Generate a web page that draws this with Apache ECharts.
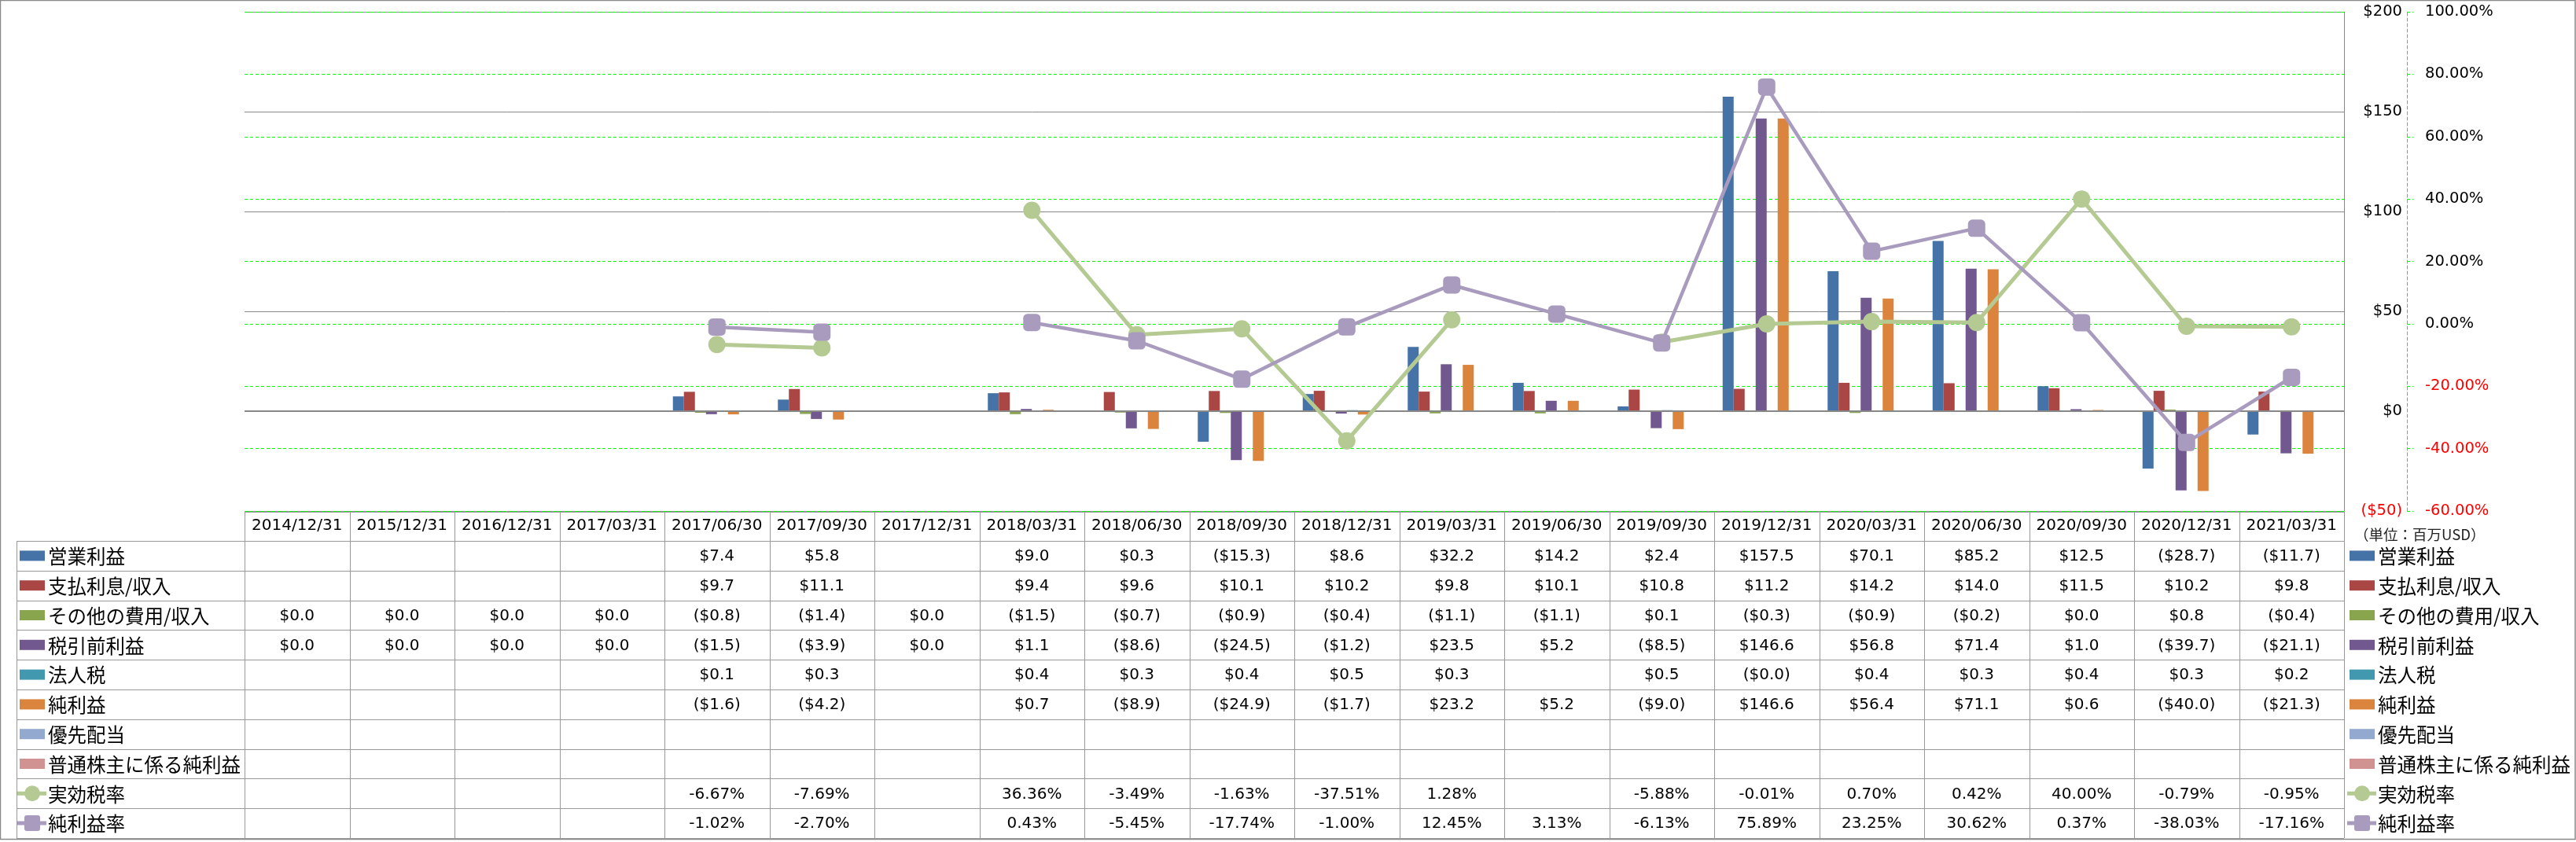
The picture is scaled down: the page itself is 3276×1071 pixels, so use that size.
<!DOCTYPE html>
<html><head><meta charset="utf-8">
<script src="https://cdn.jsdelivr.net/npm/echarts@6/dist/echarts.min.js"></script>
<style>html,body{margin:0;padding:0;background:#fff}#c{width:3276px;height:1071px}</style>
</head><body><div id="c"></div>
<script>
const categories = ['2014/12/31','2015/12/31','2016/12/31','2017/03/31','2017/06/30','2017/09/30','2017/12/31','2018/03/31','2018/06/30','2018/09/30','2018/12/31','2019/03/31','2019/06/30','2019/09/30','2019/12/31','2020/03/31','2020/06/30','2020/09/30','2020/12/31','2021/03/31'];
const seriesNames = ['営業利益','支払利息/収入','その他の費用/収入','税引前利益','法人税','純利益','優先配当','普通株主に係る純利益','実効税率','純利益率'];
const operatingIncome = [null,null,null,null,7.4,5.8,null,9.0,0.3,-15.3,8.6,32.2,14.2,2.4,157.5,70.1,85.2,12.5,-28.7,-11.7];
const interestExpense = [null,null,null,null,9.7,11.1,null,9.4,9.6,10.1,10.2,9.8,10.1,10.8,11.2,14.2,14.0,11.5,10.2,9.8];
const otherExpense = [0.0,0.0,0.0,0.0,-0.8,-1.4,0.0,-1.5,-0.7,-0.9,-0.4,-1.1,-1.1,0.1,-0.3,-0.9,-0.2,0.0,0.8,-0.4];
const pretaxIncome = [0.0,0.0,0.0,0.0,-1.5,-3.9,0.0,1.1,-8.6,-24.5,-1.2,23.5,5.2,-8.5,146.6,56.8,71.4,1.0,-39.7,-21.1];
const incomeTax = [null,null,null,null,0.1,0.3,null,0.4,0.3,0.4,0.5,0.3,null,0.5,-0.01,0.4,0.3,0.4,0.3,0.2];
const netIncome = [null,null,null,null,-1.6,-4.2,null,0.7,-8.9,-24.9,-1.7,23.2,5.2,-9.0,146.6,56.4,71.1,0.6,-40.0,-21.3];
const preferredDividends = [null,null,null,null,null,null,null,null,null,null,null,null,null,null,null,null,null,null,null,null];
const netIncomeCommon = [null,null,null,null,null,null,null,null,null,null,null,null,null,null,null,null,null,null,null,null];
const effectiveTaxRate = [null,null,null,null,-6.67,-7.69,null,36.36,-3.49,-1.63,-37.51,1.28,null,-5.88,-0.01,0.70,0.42,40.00,-0.79,-0.95];
const netMargin = [null,null,null,null,-1.02,-2.70,null,0.43,-5.45,-17.74,-1.00,12.45,3.13,-6.13,75.89,23.25,30.62,0.37,-38.03,-17.16];
const unitLabel = '（単位：百万USD）';

const barColors = ['#4572A7','#AA4643','#89A54E','#71588F','#4198AF','#DB843D','#93A9CF','#D19392'];
const lineColors = ['#B5CA92','#A99BBD'];
const rows = [operatingIncome, interestExpense, otherExpense, pretaxIncome, incomeTax, netIncome, preferredDividends, netIncomeCommon, effectiveTaxRate, netMargin];

// layout
const W = 3276, H = 1071;
const gL = 311, gR = 2981, gT = 15, gB = 650;
const colW = (gR - gL) / categories.length;
const headTop = 651, rowTop = 688, rowH = 37.8, tabL = 21;
const tabBottom = rowTop + rowH * rows.length;
const gridColor = '#888888';
const tableColor = '#999999';
const numFont = '20px "DejaVu Sans", Verdana, sans-serif';
const jpFont = '24.5px "Noto Sans CJK JP", sans-serif';

function fmtDollar(v){ if (v == null) return ''; const a = Math.abs(v).toFixed(1); return v < 0 ? '($' + a + ')' : '$' + a; }
function fmtPct(v){ return v == null ? '' : v.toFixed(2) + '%'; }
const toData = arr => arr.map(v => v == null ? '-' : v);

const els = [];
const hline = (x1, x2, y, c, w) => els.push({type:'line', silent:true, z:100, shape:{x1:x1, y1:y, x2:x2, y2:y}, style:{stroke:c, lineWidth:w||1}});
const vline = (x, y1, y2, c, w) => els.push({type:'line', silent:true, z:100, shape:{x1:x, y1:y1, x2:x, y2:y2}, style:{stroke:c, lineWidth:w||1}});

// outer border
els.push({type:'rect', silent:true, z:100, shape:{x:0.5, y:0.5, width:W-1.5, height:1067}, style:{fill:null, stroke:'#8a8a8a', lineWidth:1.5}});
// plot right border
vline(gR + 0.5, gT, gB, gridColor, 1);
// table lines
hline(gL, gR, headTop + 0.5, tableColor);
for (let r = 0; r <= rows.length; r++) hline(tabL, gR, Math.round(rowTop + r * rowH) + 0.5, tableColor);
vline(tabL + 0.5, rowTop, tabBottom, tableColor);
for (let i = 0; i <= categories.length; i++) vline(Math.round(gL + i * colW) + 0.5, headTop, tabBottom, tableColor);

// table values
rows.forEach((arr, r) => {
  const cy = rowTop + r * rowH + rowH / 2 + 1;
  arr.forEach((v, i) => {
    const t = r < 8 ? fmtDollar(v) : fmtPct(v);
    if (!t) return;
    els.push({type:'text', silent:true, z:100, x: gL + (i + 0.5) * colW, y: cy,
      style:{text:t, font:numFont, fill:'#000', align:'center', verticalAlign:'middle'}});
  });
});

// legend keys (left in table and right side)
function legendItem(x0, r) {
  const cy = rowTop + r * rowH + rowH / 2;
  if (r < 8) {
    els.push({type:'rect', silent:true, z:100, shape:{x:x0, y:cy - 6.5, width:32, height:13}, style:{fill:barColors[r]}});
  } else {
    const c = lineColors[r - 8];
    els.push({type:'line', silent:true, z:100, shape:{x1:x0 - 3, y1:cy, x2:x0 + 34, y2:cy}, style:{stroke:c, lineWidth:5}});
    if (r === 8) els.push({type:'circle', silent:true, z:101, shape:{cx:x0 + 16, cy:cy, r:10}, style:{fill:c}});
    else els.push({type:'rect', silent:true, z:101, shape:{x:x0 + 6, y:cy - 10, width:20, height:20, r:3}, style:{fill:c}});
  }
  els.push({type:'text', silent:true, z:100, x:x0 + 36, y:cy + 1,
    style:{text:seriesNames[r], font:jpFont, fill:'#000', align:'left', verticalAlign:'middle'}});
}
for (let r = 0; r < rows.length; r++) { legendItem(25, r); legendItem(2988, r); }

els.push({type:'text', silent:true, z:100, x:2994, y:680,
  style:{text:unitLabel, font:'18.5px "Noto Sans CJK JP", sans-serif', fill:'#222', align:'left', verticalAlign:'middle'}});

const barSeries = rows.slice(0, 8).map((arr, k) => ({
  name: seriesNames[k], type:'bar', data: toData(arr), barWidth:14, barGap:'0%',
  itemStyle:{color:barColors[k]}, yAxisIndex:0, z:3,
  markLine: k === 0 ? {silent:true, symbol:['none','none'], label:{show:false}, animation:false,
    lineStyle:{color:gridColor, width:2, type:'solid'}, data:[{yAxis:0}]} : undefined
}));

const lineSeries = [
  {name:seriesNames[8], type:'line', yAxisIndex:1, data:toData(effectiveTaxRate), connectNulls:false,
   symbol:'circle', symbolSize:22, lineStyle:{color:lineColors[0], width:5}, itemStyle:{color:lineColors[0]}, z:10},
  {name:seriesNames[9], type:'line', yAxisIndex:1, data:toData(netMargin), connectNulls:false,
   symbol:'roundRect', symbolSize:22, lineStyle:{color:lineColors[1], width:4.5}, itemStyle:{color:lineColors[1]}, z:11}
];

const chart = echarts.init(document.getElementById('c'), null, {renderer:'canvas'});
chart.setOption({
  animation:false,
  backgroundColor:'#fff',
  grid:{left:gL, top:gT, width:gR - gL, height:gB - gT, containLabel:false},
  xAxis:{type:'category', data:categories, boundaryGap:true,
    axisLine:{show:false}, axisTick:{show:false}, splitLine:{show:false},
    axisLabel:{interval:0, margin:9, color:'#000', fontSize:20, fontFamily:'"DejaVu Sans", Verdana, sans-serif'}},
  yAxis:[
    {type:'value', position:'right', min:-50, max:200, interval:50,
     axisLine:{show:false}, axisTick:{show:false},
     splitLine:{show:true, lineStyle:{color:gridColor, width:1}},
     axisLabel:{margin:74, align:'right', fontSize:19.5, fontFamily:'"DejaVu Sans", Verdana, sans-serif',
       color: v => v < 0 ? '#FF0000' : '#000',
       formatter: v => v < 0 ? '($' + Math.abs(v) + ')' : '$' + v}},
    {type:'value', position:'right', offset:80, min:-60, max:100, interval:20,
     axisLine:{show:true, lineStyle:{color:'#00FF00', width:1, type:[4,3]}},
     axisTick:{show:true, length:8, lineStyle:{color:'#00FF00', width:1, type:[4,3]}},
     splitLine:{show:true, lineStyle:{color:'#00FF00', width:1, type:[4,3]}},
     axisLabel:{margin:23, fontSize:19.5, fontFamily:'"DejaVu Sans", Verdana, sans-serif',
       color: v => v < 0 ? '#FF0000' : '#000',
       formatter: v => v.toFixed(2) + '%'}}
  ],
  series: barSeries.concat(lineSeries),
  graphic:{elements:els}
});
</script></body></html>
